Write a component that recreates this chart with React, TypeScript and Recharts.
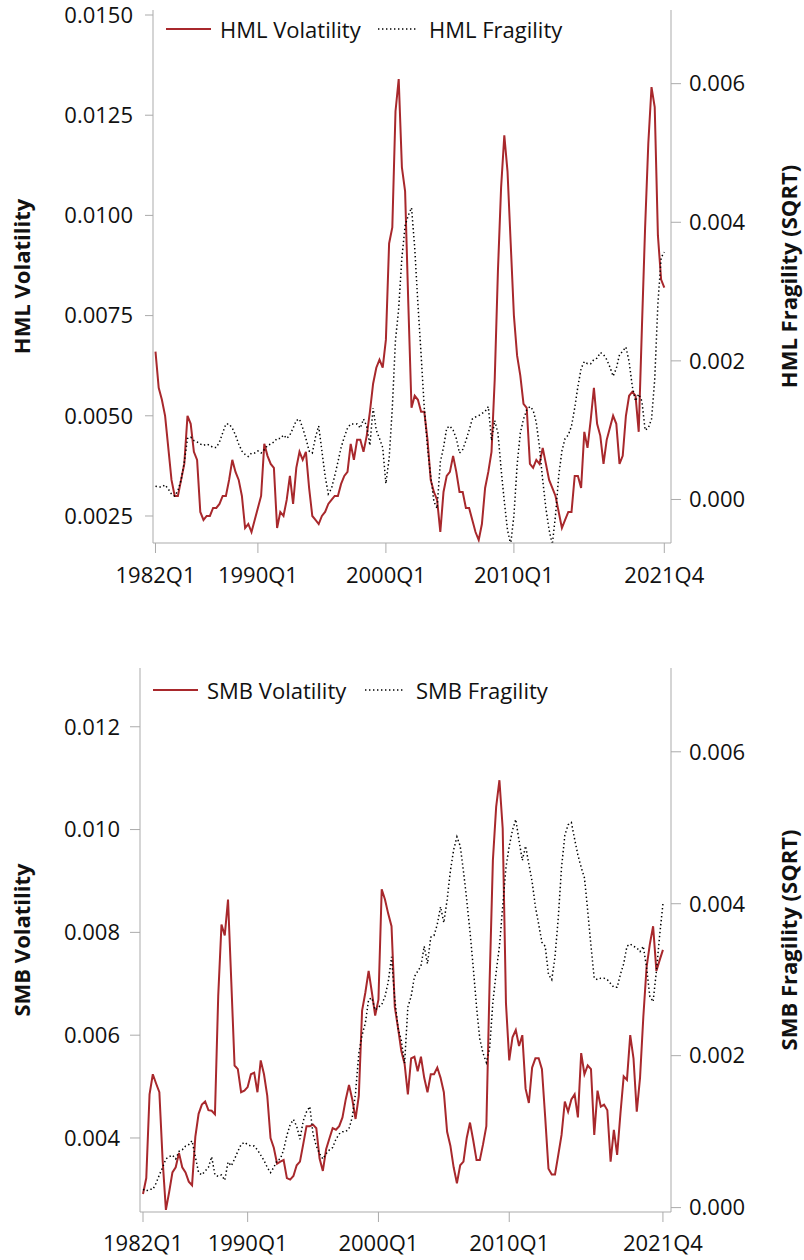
import React from 'react';
import { LineChart, Line, XAxis, YAxis, Label } from 'recharts';

// ---------- data ----------
const START_YEAR = 1982;
const xTickIdx = [0, 32, 72, 112, 159];
const xTickLabels = ['1982Q1', '1990Q1', '2000Q1', '2010Q1', '2021Q4'];

const hmlVolatility = [
  0.0066, 0.0057, 0.0054, 0.0050, 0.0042, 0.0034, 0.0030, 0.0030, 0.0034, 0.0038,
  0.0050, 0.0048, 0.0041, 0.0039, 0.0026, 0.0024, 0.0025, 0.0025, 0.0027, 0.0027,
  0.0028, 0.0030, 0.0030, 0.0034, 0.0039, 0.0036, 0.0034, 0.0030, 0.0022, 0.0023,
  0.0021, 0.0024, 0.0027, 0.0030, 0.0043, 0.0040, 0.0038, 0.0037, 0.0022, 0.0026,
  0.0025, 0.0029, 0.0035, 0.0028, 0.0037, 0.0041, 0.0039, 0.0041, 0.0032, 0.0025,
  0.0024, 0.0023, 0.0025, 0.0026, 0.0028, 0.0029, 0.0030, 0.0030, 0.0033, 0.0035,
  0.0036, 0.0043, 0.0039, 0.0044, 0.0044, 0.0041, 0.0045, 0.0051, 0.0058, 0.0062,
  0.0064, 0.0062, 0.0069, 0.0093, 0.0097, 0.0126, 0.0134, 0.0112, 0.0106, 0.0078,
  0.0052, 0.0055, 0.0054, 0.0051, 0.0051, 0.0044, 0.0034, 0.0031, 0.0029, 0.0021,
  0.0031, 0.0035, 0.0036, 0.0040, 0.0036, 0.0031, 0.0031, 0.0027, 0.0027, 0.0024,
  0.0021, 0.0019, 0.0023, 0.0032, 0.0036, 0.0041, 0.0059, 0.0086, 0.0107, 0.0120,
  0.0111, 0.0093, 0.0075, 0.0065, 0.0060, 0.0053, 0.0052, 0.0038, 0.0037, 0.0039,
  0.0038, 0.0042, 0.0038, 0.0034, 0.0032, 0.0030, 0.0026, 0.0022, 0.0024, 0.0026,
  0.0026, 0.0035, 0.0035, 0.0032, 0.0046, 0.0042, 0.0049, 0.0057, 0.0048, 0.0045,
  0.0038, 0.0044, 0.0047, 0.0050, 0.0048, 0.0038, 0.0040, 0.0050, 0.0055, 0.0056,
  0.0055, 0.0046, 0.0072, 0.0097, 0.0118, 0.0132, 0.0127, 0.0095, 0.0084, 0.0082,
];

const hmlFragility = [
  0.00019, 0.00018, 0.00018, 0.00021, 0.00015, 0.00008, 0.00005, 0.00013, 0.00028, 0.00054,
  0.00088, 0.00090, 0.00085, 0.00083, 0.00080, 0.00078, 0.00080, 0.00078, 0.00075, 0.00075,
  0.00083, 0.00096, 0.00109, 0.00109, 0.00103, 0.00093, 0.00080, 0.00070, 0.00065, 0.00062,
  0.00067, 0.00067, 0.00070, 0.00067, 0.00072, 0.00078, 0.00080, 0.00083, 0.00088, 0.00088,
  0.00093, 0.00088, 0.00093, 0.00103, 0.00114, 0.00116, 0.00103, 0.00088, 0.00070, 0.00067,
  0.00090, 0.00106, 0.00070, 0.00034, 0.00008, 0.00016, 0.00034, 0.00054, 0.00075, 0.00090,
  0.00103, 0.00109, 0.00109, 0.00109, 0.00103, 0.00116, 0.00106, 0.00078, 0.00132, 0.00100,
  0.00088, 0.00075, 0.00023, 0.00059, 0.00132, 0.00230, 0.00276, 0.00349, 0.00395, 0.00410,
  0.00421, 0.00364, 0.00282, 0.00209, 0.00132, 0.00075, 0.00034, -0.00003, -0.00013, 0.00054,
  0.00075, 0.00103, 0.00106, 0.00100, 0.00088, 0.00067, 0.00072, 0.00085, 0.00100, 0.00116,
  0.00119, 0.00121, 0.00124, 0.00127, 0.00134, 0.00085, 0.00114, 0.00096, 0.00044, -0.00003,
  -0.00044, -0.00065, -0.00023, 0.00049, 0.00096, 0.00116, 0.00129, 0.00134, 0.00129, 0.00111,
  0.00075, 0.00028, -0.00013, -0.00044, -0.00065, -0.00023, 0.00034, 0.00070, 0.00088, 0.00093,
  0.00106, 0.00132, 0.00163, 0.00189, 0.00199, 0.00196, 0.00196, 0.00202, 0.00204, 0.00212,
  0.00209, 0.00202, 0.00191, 0.00178, 0.00189, 0.00209, 0.00214, 0.00220, 0.00199, 0.00163,
  0.00142, 0.00152, 0.00142, 0.00100, 0.00103, 0.00116, 0.00173, 0.00282, 0.00349, 0.00357,
];

const smbVolatility = [
  0.00291, 0.00322, 0.00485, 0.00524, 0.00506, 0.00489, 0.00357, 0.00260, 0.00295, 0.00333,
  0.00343, 0.00371, 0.00343, 0.00333, 0.00315, 0.00308, 0.00402, 0.00447, 0.00465, 0.00471,
  0.00454, 0.00453, 0.00446, 0.00676, 0.00815, 0.00794, 0.00864, 0.00704, 0.00541, 0.00534,
  0.00489, 0.00492, 0.00499, 0.00524, 0.00527, 0.00489, 0.00551, 0.00524, 0.00482, 0.00400,
  0.00381, 0.00350, 0.00354, 0.00357, 0.00322, 0.00319, 0.00326, 0.00347, 0.00354, 0.00388,
  0.00423, 0.00423, 0.00426, 0.00419, 0.00360, 0.00336, 0.00378, 0.00399, 0.00419, 0.00416,
  0.00423, 0.00440, 0.00475, 0.00503, 0.00475, 0.00437, 0.00482, 0.00648, 0.00683, 0.00725,
  0.00683, 0.00638, 0.00669, 0.00884, 0.00864, 0.00836, 0.00812, 0.00655, 0.00614, 0.00569,
  0.00544, 0.00485, 0.00555, 0.00558, 0.00530, 0.00558, 0.00517, 0.00489, 0.00524, 0.00524,
  0.00537, 0.00517, 0.00489, 0.00412, 0.00385, 0.00343, 0.00312, 0.00347, 0.00354, 0.00400,
  0.00430, 0.00395, 0.00357, 0.00357, 0.00388, 0.00423, 0.00704, 0.00940, 0.01044, 0.01096,
  0.01002, 0.00662, 0.00551, 0.00596, 0.00610, 0.00579, 0.00600, 0.00496, 0.00468, 0.00537,
  0.00555, 0.00555, 0.00534, 0.00440, 0.00340, 0.00329, 0.00329, 0.00367, 0.00406, 0.00471,
  0.00451, 0.00475, 0.00485, 0.00440, 0.00565, 0.00524, 0.00541, 0.00534, 0.00406, 0.00492,
  0.00461, 0.00465, 0.00454, 0.00354, 0.00416, 0.00367, 0.00447, 0.00520, 0.00513, 0.00600,
  0.00555, 0.00451, 0.00517, 0.00635, 0.00732, 0.00777, 0.00812, 0.00725, 0.00746, 0.00766,
];

const smbFragility = [
  0.00024, 0.00022, 0.00024, 0.00024, 0.00032, 0.00043, 0.00053, 0.00064, 0.00067, 0.00069,
  0.00064, 0.00074, 0.00076, 0.00081, 0.00083, 0.00088, 0.00067, 0.00046, 0.00043, 0.00048,
  0.00053, 0.00067, 0.00043, 0.00041, 0.00043, 0.00036, 0.00060, 0.00055, 0.00064, 0.00074,
  0.00083, 0.00086, 0.00083, 0.00081, 0.00081, 0.00076, 0.00069, 0.00062, 0.00053, 0.00046,
  0.00053, 0.00062, 0.00064, 0.00076, 0.00095, 0.00109, 0.00116, 0.00107, 0.00090, 0.00114,
  0.00126, 0.00133, 0.00097, 0.00081, 0.00071, 0.00064, 0.00071, 0.00076, 0.00079, 0.00090,
  0.00097, 0.00100, 0.00100, 0.00104, 0.00119, 0.00151, 0.00203, 0.00227, 0.00243, 0.00274,
  0.00276, 0.00260, 0.00264, 0.00267, 0.00278, 0.00297, 0.00330, 0.00274, 0.00236, 0.00220,
  0.00190, 0.00264, 0.00278, 0.00304, 0.00311, 0.00318, 0.00344, 0.00321, 0.00356, 0.00358,
  0.00373, 0.00396, 0.00375, 0.00405, 0.00443, 0.00471, 0.00488, 0.00476, 0.00443, 0.00405,
  0.00363, 0.00316, 0.00264, 0.00222, 0.00203, 0.00191, 0.00210, 0.00270, 0.00310, 0.00344,
  0.00396, 0.00448, 0.00476, 0.00497, 0.00511, 0.00483, 0.00457, 0.00476, 0.00452, 0.00429,
  0.00396, 0.00373, 0.00349, 0.00344, 0.00307, 0.00300, 0.00330, 0.00382, 0.00448, 0.00490,
  0.00504, 0.00507, 0.00485, 0.00464, 0.00448, 0.00434, 0.00391, 0.00344, 0.00302, 0.00300,
  0.00302, 0.00302, 0.00300, 0.00295, 0.00290, 0.00290, 0.00307, 0.00321, 0.00344, 0.00347,
  0.00344, 0.00342, 0.00337, 0.00344, 0.00316, 0.00278, 0.00271, 0.00311, 0.00358, 0.00400,
];

const hmlVolTicks = [0.0025, 0.005, 0.0075, 0.01, 0.0125, 0.015];
const hmlFragTicks = [0, 0.002, 0.004, 0.006];
const smbVolTicks = [0.004, 0.006, 0.008, 0.01, 0.012];
const smbFragTicks = [0, 0.002, 0.004, 0.006];

// ---------- style ----------
const FONT = '"Open Sans", "Noto Sans", sans-serif';
const FS = 22;
const RED = '#a8282c';
const AXIS = '#ababab';
const DOTS = '1.4 2.6';

const quarterLabel = (i: number) => {
  const k = xTickIdx.indexOf(i);
  if (k >= 0) return xTickLabels[k];
  return `${START_YEAR + Math.floor(i / 4)}Q${(i % 4) + 1}`;
};

const buildRows = (vol: number[], frag: number[]) =>
  vol.map((v, i) => ({ i, vol: v, frag: frag[i] }));

const hmlRows = buildRows(hmlVolatility, hmlFragility);
const smbRows = buildRows(smbVolatility, smbFragility);

type PanelCfg = {
  rows: any[];
  width: number;
  height: number;
  margin: { top: number; right: number; bottom: number; left: number };
  xDomain: [number, number];
  leftDomain: [number, number];
  rightDomain: [number, number];
  leftTicks: number[];
  rightTicks: number[];
  leftDigits: number;
  rightDigits: number;
  leftTickSize: number;
  leftTickMargin: number;
  xTickMargin: number;
  leftTitle: string;
  rightTitle: string;
  volName: string;
  fragName: string;
};

const tickStyle = { fill: '#111', fontSize: FS, fontFamily: FONT };

const axisTitle = (text: string, x: number) => (props: any) => {
  const vb = props.viewBox || {};
  const cy = (vb.y || 0) + (vb.height || 0) / 2;
  return (
    <text
      x={x}
      y={cy}
      transform={`rotate(-90, ${x}, ${cy})`}
      textAnchor="middle"
      dominantBaseline="central"
      fontFamily={FONT}
      fontSize={FS}
      fontWeight="bold"
      fill="#111"
    >
      {text}
    </text>
  );
};

function Panel({ cfg }: { cfg: PanelCfg }) {
  return (
    <LineChart width={cfg.width} height={cfg.height} data={cfg.rows} margin={cfg.margin}>
      <XAxis
        dataKey="i"
        type="number"
        domain={cfg.xDomain}
        allowDataOverflow
        ticks={xTickIdx}
        interval={0}
        tickFormatter={quarterLabel}
        stroke={AXIS}
        tickLine={{ stroke: AXIS }}
        tickSize={10}
        tickMargin={cfg.xTickMargin}
        tick={tickStyle}
        height={40}
      />
      <YAxis
        yAxisId="left"
        orientation="left"
        type="number"
        domain={cfg.leftDomain}
        allowDataOverflow
        ticks={cfg.leftTicks}
        interval={0}
        tickFormatter={(v: number) => v.toFixed(cfg.leftDigits)}
        stroke={AXIS}
        tickLine={{ stroke: AXIS }}
        tickSize={cfg.leftTickSize}
        tickMargin={cfg.leftTickMargin}
        tick={tickStyle}
        width={120}
      >
        <Label content={axisTitle(cfg.leftTitle, 21)} />
      </YAxis>
      <YAxis
        yAxisId="right"
        orientation="right"
        type="number"
        domain={cfg.rightDomain}
        allowDataOverflow
        ticks={cfg.rightTicks}
        interval={0}
        tickFormatter={(v: number) => v.toFixed(cfg.rightDigits)}
        stroke={AXIS}
        tickLine={{ stroke: AXIS }}
        tickSize={10}
        tickMargin={8}
        tick={{ ...tickStyle, textAnchor: 'start' }}
        width={110}
      >
        <Label content={axisTitle(cfg.rightTitle, 788)} />
      </YAxis>
      <Line
        yAxisId="left"
        dataKey="vol"
        name={cfg.volName}
        stroke={RED}
        strokeWidth={2}
        dot={false}
        activeDot={false}
        isAnimationActive={false}
      />
      <Line
        yAxisId="right"
        dataKey="frag"
        name={cfg.fragName}
        stroke="#000"
        strokeWidth={1.5}
        strokeDasharray={DOTS}
        dot={false}
        activeDot={false}
        isAnimationActive={false}
      />
    </LineChart>
  );
}

function LegendRow({ x, y, volName, fragName }: { x: number; y: number; volName: string; fragName: string }) {
  return (
    <g fontFamily={FONT} fontSize={FS} fill="#111">
      <line x1={x} x2={x + 45} y1={y} y2={y} stroke={RED} strokeWidth={2} />
      <text x={x + 54} y={y} dominantBaseline="central">{volName}</text>
      <line x1={x + 212} x2={x + 250} y1={y} y2={y} stroke="#000" strokeWidth={1.5} strokeDasharray={DOTS} />
      <text x={x + 263} y={y} dominantBaseline="central">{fragName}</text>
    </g>
  );
}

const topCfg: PanelCfg = {
  rows: hmlRows,
  width: 804,
  height: 600,
  margin: { top: 10, right: 23, bottom: 17, left: 33 },
  xDomain: [-0.78, 161.09],
  leftDomain: [0.001826, 0.015125],
  rightDomain: [-0.000628, 0.007063],
  leftTicks: hmlVolTicks,
  rightTicks: hmlFragTicks,
  leftDigits: 4,
  rightDigits: 3,
  leftTickSize: 8,
  leftTickMargin: 12,
  xTickMargin: 14,
  leftTitle: 'HML Volatility',
  rightTitle: 'HML Fragility (SQRT)',
  volName: 'HML Volatility',
  fragName: 'HML Fragility',
};

const bottomCfg: PanelCfg = {
  rows: smbRows,
  width: 804,
  height: 620,
  margin: { top: 28, right: 23, bottom: 8, left: 20 },
  xDomain: [-0.92, 161.47],
  leftDomain: [0.00256, 0.013143],
  rightDomain: [-0.000058, 0.007103],
  leftTicks: smbVolTicks,
  rightTicks: smbFragTicks,
  leftDigits: 3,
  rightDigits: 3,
  leftTickSize: 10,
  leftTickMargin: 10,
  xTickMargin: 13,
  leftTitle: 'SMB Volatility',
  rightTitle: 'SMB Fragility (SQRT)',
  volName: 'SMB Volatility',
  fragName: 'SMB Fragility',
};

export default function App() {
  return (
    <div style={{ position: 'absolute', left: 0, top: 0, width: 804, height: 1260, background: '#fff' }}>
      <div style={{ position: 'absolute', left: 0, top: 0 }}>
        <Panel cfg={topCfg} />
      </div>
      <div style={{ position: 'absolute', left: 0, top: 640 }}>
        <Panel cfg={bottomCfg} />
      </div>
      <svg
        width={804}
        height={1260}
        style={{ position: 'absolute', left: 0, top: 0, pointerEvents: 'none' }}
      >
        <LegendRow x={166} y={29} volName={topCfg.volName} fragName={topCfg.fragName} />
        <LegendRow x={153} y={690} volName={bottomCfg.volName} fragName={bottomCfg.fragName} />
      </svg>
    </div>
  );
}
